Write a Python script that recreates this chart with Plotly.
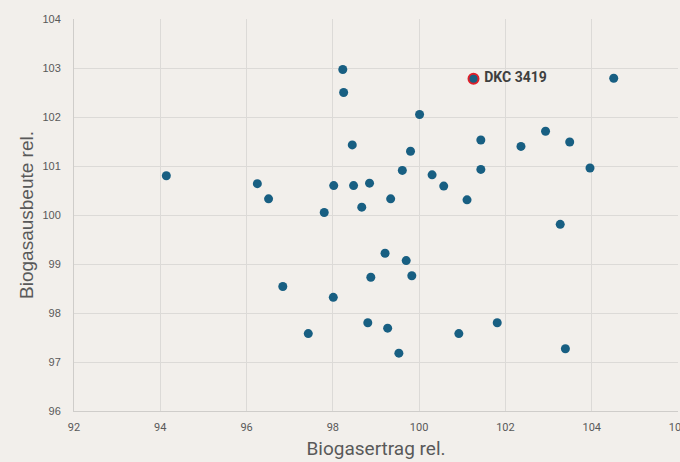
import plotly.graph_objects as go

# Biogasertrag rel. (x) and Biogasausbeute rel. (y) for all varieties
ertrag = [94.14, 96.25, 96.51, 96.84, 97.43, 97.80, 98.02, 98.01, 98.23, 98.25,
          98.45, 98.48, 98.67, 98.81, 98.85, 98.88, 99.21, 99.27, 99.34, 99.53,
          99.61, 99.70, 99.80, 99.83, 100.01, 100.30, 100.57, 100.92, 101.11,
          101.43, 101.43, 101.81, 102.36, 102.93, 103.27, 103.49, 103.39,
          103.96, 104.51]
ausbeute = [100.80, 100.64, 100.33, 98.54, 97.58, 100.05, 100.60, 98.32, 102.97, 102.50,
            101.43, 100.60, 100.16, 97.80, 100.65, 98.73, 99.22, 97.69, 100.33, 97.18,
            100.91, 99.07, 101.30, 98.76, 102.05, 100.82, 100.59, 97.58, 100.31,
            101.53, 100.93, 97.80, 101.40, 101.71, 99.81, 101.49, 97.27,
            100.96, 102.79]

# Highlighted variety
hl_name = ["DKC 3419"]
hl_ertrag = [101.26]
hl_ausbeute = [102.78]

x_ticks = [92, 94, 96, 98, 100, 102, 104, 106]
y_ticks = [96, 97, 98, 99, 100, 101, 102, 103, 104]

BG = "#f2efeb"
BLUE = "#185f82"

fig = go.Figure()
fig.add_trace(go.Scatter(
    x=ertrag, y=ausbeute, mode="markers",
    marker=dict(color=BLUE, size=9, line=dict(width=0)),
    showlegend=False, hoverinfo="x+y"))
fig.add_trace(go.Scatter(
    x=hl_ertrag, y=hl_ausbeute, mode="markers+text",
    text=[" " + t for t in hl_name], textposition="middle right",
    textfont=dict(family="Roboto, Arial", size=14, color="#3f3f3f", weight="bold"),
    marker=dict(color=BLUE, size=10, line=dict(color="#e0202a", width=2)),
    showlegend=False))

fig.update_layout(
    width=680, height=462,
    paper_bgcolor=BG, plot_bgcolor=BG,
    margin=dict(l=74, r=2, t=19, b=51, autoexpand=False),
    font=dict(family="Liberation Sans, Arial", color="#595959", size=11),
)
fig.update_xaxes(
    range=[92, 106], tickvals=x_ticks, ticktext=[str(v) for v in x_ticks],
    showgrid=True, gridcolor="#dcdad7", gridwidth=1,
    showline=True, linecolor="#cfcdca", linewidth=1,
    zeroline=False, ticks="", ticklabelstandoff=6, automargin=False,
    ticklabeloverflow="allow",
    tickfont=dict(family="Roboto, Arial", size=11, color="#595959"),
    title=dict(text="Biogasertrag rel.", standoff=8,
               font=dict(family="Roboto, Arial", size=19, color="#595959")),
)
fig.update_yaxes(
    range=[96, 104], tickvals=y_ticks, ticktext=[str(v) for v in y_ticks],
    showgrid=True, gridcolor="#dcdad7", gridwidth=1,
    showline=True, linecolor="#cfcdca", linewidth=1,
    zeroline=False, ticks="", ticklabelstandoff=10, automargin=False,
    ticklabeloverflow="allow",
    tickfont=dict(family="Liberation Sans, Arial", size=11, color="#595959"),
    title=dict(text="Biogasausbeute rel.", standoff=3,
               font=dict(family="Liberation Sans, Arial", size=19, color="#595959")),
)

fig.write_html(
    "out.html",
    config={"displayModeBar": False},
    post_script="document.body.style.margin='0';document.body.style.background='#f2efeb';",
)
